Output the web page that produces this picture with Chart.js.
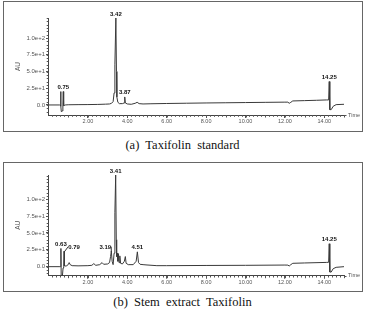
<!DOCTYPE html>
<html><head><meta charset="utf-8">
<script src="https://cdn.jsdelivr.net/npm/chart.js@4.4.0/dist/chart.umd.min.js"></script>
<style>
html,body{margin:0;padding:0;background:#fff;width:365px;height:310px;overflow:hidden}
.box{position:absolute;left:3px;width:360px;border:1px solid #666;box-sizing:border-box;background:#fff}
.box canvas{position:absolute;left:0;top:0}
.cap{position:absolute;left:0;width:365px;text-align:center;font-family:"Liberation Serif",serif;font-size:12.5px;line-height:14px;color:#111;white-space:pre}
</style></head><body>
<div class="box" style="top:1px;height:131px"><canvas id="cA" width="358" height="129" style="width:358px;height:129px"></canvas></div>
<div class="cap" style="top:138px">(a)  Taxifolin  standard</div>
<div class="box" style="top:162px;height:130px"><canvas id="cB" width="358" height="128" style="width:358px;height:128px"></canvas></div>
<div class="cap" style="top:295px">(b)  Stem  extract  Taxifolin</div>
<script>
// ---- data: panel (a) Taxifolin standard ----
const timeA = [0,0.55,0.60,0.62,0.63,0.65,0.70,0.73,0.75,0.77,0.85,1.0,1.5,2.0,2.5,2.9,3.1,3.2,3.28,3.33,3.37,3.42,3.45,3.47,3.52,3.6,3.75,3.84,3.87,3.9,4.0,4.2,4.4,4.5,4.6,4.8,5.2,6,7,8,9,10,11,12,12.15,12.22,12.3,12.4,13,13.6,14.1,14.22,14.25,14.28,14.35,14.45,14.6,15];
const auA   = [0,0,0,20,-2,-10,-9,0,20,-1,0,0.3,0.5,0.6,0.8,1.2,1.5,2.5,5,18,60,130,50,12,4,2,2,3,12,3,1.5,1,2.5,4,2,1.5,1.8,2.2,2.6,3,3.3,3.6,3.9,4.2,4.2,2.5,4,6,6.5,7,7.5,7.5,35,-7,-7,-2,0.5,1];
const peaksA = [0.75,3.42,3.87,14.25];

// ---- data: panel (b) Stem extract Taxifolin ----
const timeB = [0,0.58,0.61,0.63,0.645,0.70,0.74,0.77,0.79,0.81,0.9,1.0,1.05,1.1,1.2,1.5,2.0,2.2,2.3,2.4,2.6,2.72,2.8,3.0,3.1,3.15,3.19,3.23,3.28,3.33,3.37,3.41,3.44,3.46,3.49,3.52,3.55,3.58,3.62,3.66,3.75,3.85,3.9,3.94,4.05,4.3,4.45,4.51,4.57,4.65,4.8,5.0,5.5,6,8,10,12,12.15,12.22,12.3,12.4,13,14.1,14.22,14.25,14.28,14.35,14.45,14.6,15];
const auB   = [0,0,0,27,-16,-16,-2,0,23,1,1,3,6,3,1.5,1.2,1.5,2,4.5,2,3,6,3.5,4,6,15,23,8,3,20,80,136,40,15,20,8,19,6,16,5,4,8,15,5,3,3,8,22,6,3.5,3,2.5,1.5,1.5,1.8,2,2.4,2.3,1,3,5,5.5,6.3,6.5,34,-8,-8,-3,-1,0];
const peaksB = [0.63,0.79,3.19,3.41,4.51,14.25];

// ---- axes ----
const xTicks = [2,4,6,8,10,12,14];
const xTickLabels = ['2.00','4.00','6.00','8.00','10.00','12.00','14.00'];
const yTicks = [0,25,50,75,100];
const yTickLabels = ['0.0','2.5e+1','5.0e+1','7.5e+1','1.0e+2'];

const SANS = '"Liberation Sans", Arial, sans-serif';

const decor = {
  id: 'decor',
  afterDatasetsDraw(chart, args, opts) {
    const {ctx, chartArea: a, scales: {x, y}} = chart;
    ctx.save();
    ctx.strokeStyle = '#555'; ctx.lineWidth = 1;
    ctx.beginPath();
    for (let i = 1; i <= 75; i++) {
      const px = Math.round(x.getPixelForValue(i * 0.2)) + 0.5;
      const len = (i % 5 === 0) ? 2.5 : 1.8;
      ctx.moveTo(px, a.bottom); ctx.lineTo(px, a.bottom + len);
    }
    for (let v = -10; v <= y.max; v += 5) {
      const py = Math.round(y.getPixelForValue(v)) + 0.5;
      ctx.moveTo(a.left - 1.8, py); ctx.lineTo(a.left, py);
    }
    ctx.moveTo(a.right, Math.round(a.bottom) + 0.5); ctx.lineTo(a.right + 2.5, Math.round(a.bottom) + 0.5);
    ctx.stroke();
    ctx.fillStyle = '#555'; ctx.font = '5.5px ' + SANS; ctx.textBaseline = 'middle'; ctx.textAlign = 'left';
    ctx.fillText('Time', a.right + 4, a.bottom);
    const ds = chart.data.datasets[0].data;
    ctx.fillStyle = '#111'; ctx.font = 'bold 6px ' + SANS; ctx.textAlign = 'center'; ctx.textBaseline = 'alphabetic';
    (opts.peaks || []).forEach((t, i) => {
      let h = -Infinity;
      ds.forEach(p => { if (Math.abs(p.x - t) <= 0.06 && p.y > h) h = p.y; });
      const px = x.getPixelForValue(t), py = y.getPixelForValue(h);
      const dx = (opts.offsets && opts.offsets[i]) || 0;
      const lx = px + dx, ly = py - 2.5;
      ctx.fillText(t.toFixed(2), lx, ly);
      if (dx) {
        const w = ctx.measureText(t.toFixed(2)).width;
        ctx.beginPath(); ctx.strokeStyle = '#333';
        ctx.moveTo(lx + (dx > 0 ? -w / 2 : w / 2), ly - 2);
        ctx.lineTo(px, py + 1);
        ctx.stroke();
      }
    });
    ctx.restore();
  }
};

function makeChart(id, times, vals, peaks, offsets, yMin, yMax, pad, xH) {
  const pts = times.map((t, i) => ({x: t, y: vals[i]}));
  return new Chart(document.getElementById(id), {
    type: 'line',
    data: {datasets: [{data: pts, borderColor: '#3a3a3a', borderWidth: 1, pointRadius: 0, tension: 0, fill: false}]},
    options: {
      responsive: false, animation: false, devicePixelRatio: 1,
      layout: {padding: pad},
      plugins: {legend: {display: false}, tooltip: {enabled: false}, decor: {peaks: peaks, offsets: offsets}},
      scales: {
        x: {
          type: 'linear', min: 0, max: 15,
          afterFit: s => { s.height = xH; },
          afterBuildTicks: s => { s.ticks = xTicks.map(v => ({value: v})); },
          grid: {drawOnChartArea: false, drawTicks: true, tickLength: 3, color: '#555'},
          border: {display: true, color: '#444', width: 1},
          ticks: {autoSkip: false, maxRotation: 0, padding: 0, color: '#555', font: {family: SANS, size: 5.5},
                  callback: v => xTickLabels[xTicks.indexOf(v)]}
        },
        y: {
          type: 'linear', min: yMin, max: yMax,
          afterFit: s => { s.width = 44.5; },
          afterBuildTicks: s => { s.ticks = yTicks.map(v => ({value: v})); },
          grid: {drawOnChartArea: false, drawTicks: true, tickLength: 2.5, color: '#555'},
          border: {display: true, color: '#444', width: 1},
          ticks: {padding: 1, color: '#555', font: {family: SANS, size: 6},
                  callback: v => yTickLabels[yTicks.indexOf(v)]},
          title: {display: true, text: 'AU', color: '#555', font: {family: SANS, size: 6.5}, padding: {top: 10, bottom: 0}}
        }
      }
    },
    plugins: [decor]
  });
}

makeChart('cA', timeA, auA, peaksA, {}, -15, 130, {left: 0, top: 16, right: 18, bottom: 0}, 16);
makeChart('cB', timeB, auB, peaksB, {1: 10, 2: -6}, -13.4, 136, {left: 0, top: 12, right: 18, bottom: 0}, 15.3);
</script>
</body></html>
